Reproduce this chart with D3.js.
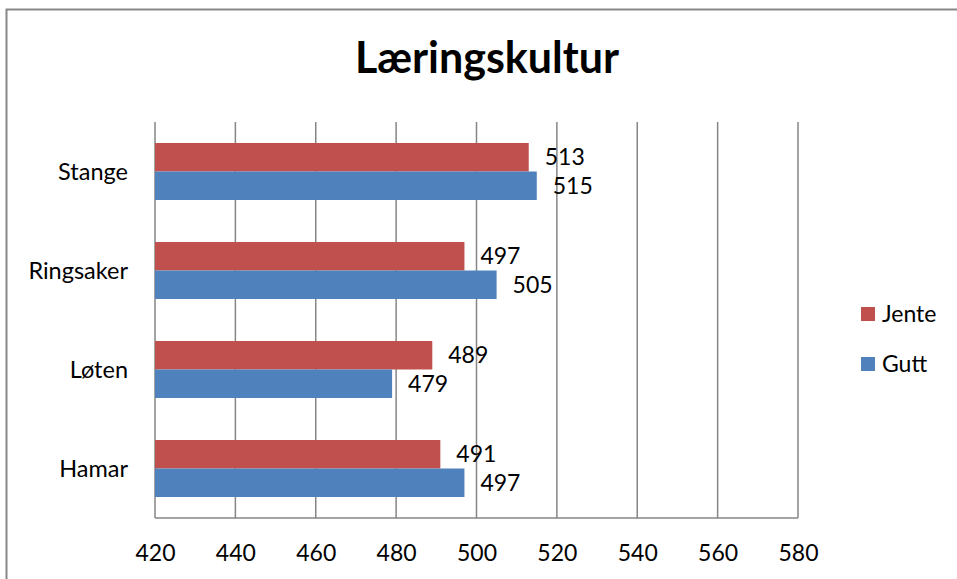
<!DOCTYPE html>
<html lang="no">
    <head>
        <meta charset="utf-8">
        <title>Læringskultur</title>
        <style>
            body { margin: 0; background: #fff; }
            text { font-family: Lato, "Open Sans", sans-serif; fill: #000; }
            .grid line { stroke: #868686; stroke-width: 1.5px; }
        </style>
    </head>
    <body>
        <script src="https://d3js.org/d3.v7.min.js"></script>
        <script type="text/javascript">

            // data
            var categories = ["Stange", "Ringsaker", "Løten", "Hamar"];
            var seriesNames = ["Jente", "Gutt"];
            var jente = [513, 497, 489, 491];
            var gutt = [515, 505, 479, 497];
            var xTicks = [420, 440, 460, 480, 500, 520, 540, 560, 580];
            var colors = {Jente: "#C0504D", Gutt: "#4F81BD"};

            var width = 957, height = 579;
            var plot = {left: 155, right: 798, top: 122, bottom: 518};

            var svg = d3.select("body")
                .append("svg")
                .attr("width", width)
                .attr("height", height);

            // outer chart border (cropped at right/bottom)
            svg.append("rect")
                .attr("x", 6.5).attr("y", 9.5)
                .attr("width", width).attr("height", height)
                .attr("fill", "none")
                .attr("stroke", "#878787")
                .attr("stroke-width", 2);

            var xScale = d3.scaleLinear()
                .domain([420, 580])
                .range([plot.left, plot.right]);

            var yScale = d3.scaleBand()
                .domain(categories)
                .range([plot.top, plot.bottom]);

            var bw = yScale.bandwidth();
            var ySub = d3.scaleBand()
                .domain(seriesNames)
                .range([(bw - 57) / 2, (bw + 57) / 2]);

            // title
            svg.append("text")
                .attr("x", 487)
                .attr("y", 73)
                .attr("text-anchor", "middle")
                .style("font-size", "43px")
                .style("font-weight", "bold")
                .text("Læringskultur");

            // vertical gridlines
            svg.append("g")
                .attr("class", "grid")
                .selectAll("line")
                .data(xTicks)
                .join("line")
                .attr("x1", d => xScale(d)).attr("x2", d => xScale(d))
                .attr("y1", plot.top).attr("y2", plot.bottom);

            // bottom axis line
            svg.append("line")
                .attr("x1", plot.left).attr("x2", plot.right)
                .attr("y1", plot.bottom).attr("y2", plot.bottom)
                .attr("stroke", "#868686").attr("stroke-width", 1.5);

            // x axis labels
            var xAxis = d3.axisBottom(xScale)
                .tickValues(xTicks)
                .tickSize(0)
                .tickPadding(0);
            var gx = svg.append("g")
                .attr("transform", "translate(0," + (plot.bottom + 43) + ")")
                .call(xAxis);
            gx.select(".domain").remove();
            gx.selectAll("text")
                .attr("dy", 0)
                .style("font-size", "23px")
                .style("font-family", "Lato, sans-serif");

            // y axis labels
            var yAxis = d3.axisLeft(yScale).tickSize(0).tickPadding(0);
            var gy = svg.append("g")
                .attr("transform", "translate(128,0)")
                .call(yAxis);
            gy.select(".domain").remove();
            gy.selectAll("text")
                .attr("dy", "0.35em")
                .style("font-size", "23.5px")
                .style("font-family", "Lato, sans-serif");

            var rows = [];
            categories.forEach(function(c, i) {
                rows.push({cat: c, series: "Jente", value: jente[i]});
                rows.push({cat: c, series: "Gutt", value: gutt[i]});
            });

            // bars
            svg.append("g")
                .selectAll("rect")
                .data(rows)
                .join("rect")
                .attr("x", xScale(420))
                .attr("y", d => yScale(d.cat) + ySub(d.series))
                .attr("width", d => xScale(d.value) - xScale(420))
                .attr("height", ySub.bandwidth())
                .attr("fill", d => colors[d.series]);

            // data labels
            svg.append("g")
                .selectAll("text")
                .data(rows)
                .join("text")
                .attr("x", d => xScale(d.value) + 16)
                .attr("y", d => yScale(d.cat) + ySub(d.series) + ySub.bandwidth() / 2)
                .attr("dy", "0.35em")
                .style("font-size", "23px")
                .text(d => d.value);

            // legend
            var legend = svg.append("g")
                .selectAll("g")
                .data(seriesNames)
                .join("g")
                .attr("transform", (d, i) => "translate(861," + (307 + i * 50) + ")");
            legend.append("rect")
                .attr("width", 14).attr("height", 14)
                .attr("fill", d => colors[d]);
            legend.append("text")
                .attr("x", 21).attr("y", 7)
                .attr("dy", "0.35em")
                .style("font-size", "23px")
                .text(d => d);

        </script>
    </body>
</html>
